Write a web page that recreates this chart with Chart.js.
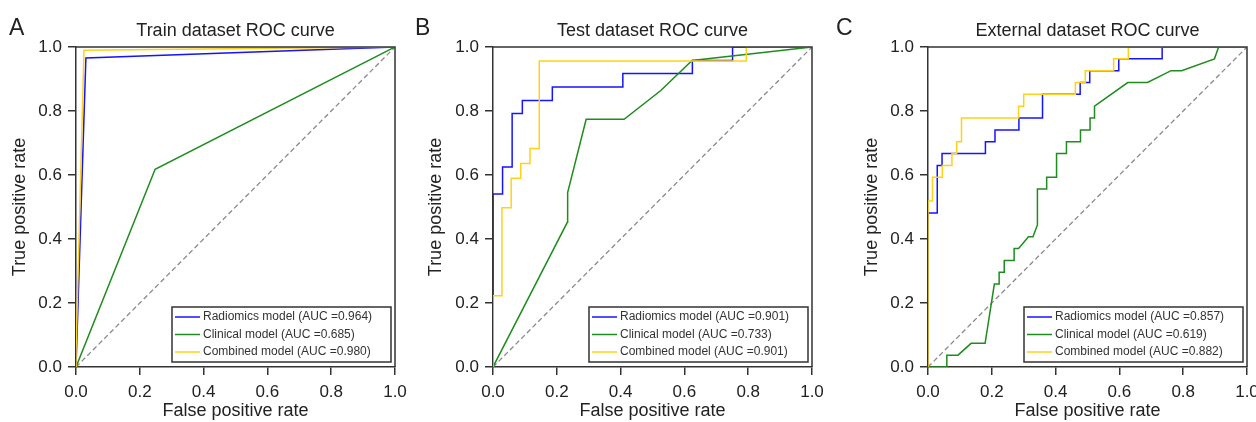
<!DOCTYPE html>
<html><head><meta charset="utf-8">
<script src="https://cdn.jsdelivr.net/npm/chart.js@4.4.0/dist/chart.umd.min.js"></script>
<style>
html,body{margin:0;padding:0;background:#fff;}
body{width:1256px;height:422px;position:relative;overflow:hidden;}
canvas{position:absolute;top:0;}
</style></head><body>
<canvas id="cA" width="408" height="422" style="left:0px"></canvas>
<canvas id="cB" width="419" height="422" style="left:408px"></canvas>
<canvas id="cC" width="429" height="422" style="left:827px"></canvas>
<script>
// ---------- data ----------
const tickLabels = ['0.0', '0.2', '0.4', '0.6', '0.8', '1.0'];
const seriesNames = ['Radiomics model', 'Clinical model', 'Combined model'];
const panelTitles = ['Train dataset ROC curve', 'Test dataset ROC curve', 'External dataset ROC curve'];
const panelLetters = ['A', 'B', 'C'];
const xAxisTitle = 'False positive rate';
const yAxisTitle = 'True positive rate';

const trainAUC = ['0.964', '0.685', '0.980'];
const testAUC = ['0.901', '0.733', '0.901'];
const extAUC = ['0.857', '0.619', '0.882'];

const diagFPR = [0, 1];
const diagTPR = [0, 1];

// Train
const trainRadFPR = [0, 0.031, 1];
const trainRadTPR = [0, 0.966, 1];
const trainCliFPR = [0, 0.248, 1];
const trainCliTPR = [0, 0.618, 1];
const trainComFPR = [0, 0, 0.025, 1];
const trainComTPR = [0, 0.05, 0.99, 1];

// Test
const testRadFPR = [0, 0, 0.030, 0.030, 0.060, 0.060, 0.092, 0.092, 0.186, 0.186, 0.407, 0.407, 0.625, 0.625, 0.751, 0.751, 1];
const testRadTPR = [0, 0.541, 0.541, 0.625, 0.625, 0.792, 0.792, 0.833, 0.833, 0.875, 0.875, 0.917, 0.917, 0.958, 0.958, 1, 1];
const testCliFPR = [0, 0.233, 0.234, 0.292, 0.411, 0.526, 0.624, 1];
const testCliTPR = [0, 0.452, 0.545, 0.774, 0.774, 0.864, 0.958, 1];
const testComFPR = [0, 0, 0.028, 0.028, 0.057, 0.057, 0.087, 0.087, 0.116, 0.116, 0.145, 0.145, 0.794, 0.794, 1];
const testComTPR = [0, 0.223, 0.223, 0.498, 0.498, 0.590, 0.590, 0.636, 0.636, 0.683, 0.683, 0.956, 0.956, 1, 1];

// External
const extRadFPR = [0, 0, 0.029, 0.029, 0.044, 0.044, 0.180, 0.180, 0.210, 0.210, 0.285, 0.285, 0.359, 0.359, 0.477, 0.477, 0.507, 0.507, 0.598, 0.598, 0.734, 0.734, 1];
const extRadTPR = [0, 0.481, 0.481, 0.630, 0.630, 0.667, 0.667, 0.704, 0.704, 0.741, 0.741, 0.778, 0.778, 0.852, 0.852, 0.889, 0.889, 0.926, 0.926, 0.963, 0.963, 1, 1];
const extCliFPR = [0, 0.059, 0.059, 0.094, 0.135, 0.179, 0.208, 0.223, 0.223, 0.239, 0.239, 0.270, 0.270, 0.284, 0.315, 0.329, 0.343, 0.343, 0.372, 0.372, 0.403, 0.403, 0.434, 0.434, 0.478, 0.478, 0.508, 0.508, 0.522, 0.522, 0.626, 0.688, 0.762, 0.795, 0.898, 0.911, 1];
const extCliTPR = [0, 0, 0.037, 0.037, 0.074, 0.074, 0.259, 0.259, 0.296, 0.296, 0.333, 0.333, 0.370, 0.370, 0.407, 0.407, 0.444, 0.556, 0.556, 0.593, 0.593, 0.667, 0.667, 0.704, 0.704, 0.741, 0.741, 0.778, 0.778, 0.815, 0.889, 0.889, 0.926, 0.926, 0.963, 1, 1];
const extComFPR = [0, 0, 0.014, 0.014, 0.045, 0.045, 0.075, 0.075, 0.090, 0.090, 0.105, 0.105, 0.284, 0.284, 0.300, 0.300, 0.462, 0.462, 0.493, 0.493, 0.582, 0.582, 0.628, 0.628, 1];
const extComTPR = [0, 0.519, 0.519, 0.593, 0.593, 0.630, 0.630, 0.667, 0.667, 0.704, 0.704, 0.778, 0.778, 0.815, 0.815, 0.852, 0.852, 0.889, 0.889, 0.926, 0.926, 0.963, 0.963, 1, 1];

// ---------- styling ----------
const FONT = '"Liberation Sans", Arial, Helvetica, sans-serif';
const colors = ['#1414ff', '#1e8c1e', '#ffd21a'];
const textColor = '#222';
const axisColor = '#333';

function pts(xs, ys) { return xs.map((x, i) => ({x: x, y: ys[i]})); }

const framePlugin = {
  id: 'frame',
  afterDatasetsDraw(chart) {
    const {ctx, chartArea: a} = chart;
    ctx.save();
    ctx.strokeStyle = axisColor;
    ctx.lineWidth = 1.5;
    ctx.beginPath();
    ctx.moveTo(a.left, a.top); ctx.lineTo(a.right, a.top); ctx.lineTo(a.right, a.bottom);
    ctx.stroke();
    ctx.restore();
  }
};

const legendPlugin = {
  id: 'boxLegend',
  afterDraw(chart, args, opts) {
    const {ctx, chartArea: a} = chart;
    const w = 219, h = 55;
    const right = a.right - 4, bottom = a.bottom - 5;
    const left = right - w, top = bottom - h;
    ctx.save();
    ctx.fillStyle = '#fff';
    ctx.fillRect(left, top, w, h);
    ctx.strokeStyle = axisColor;
    ctx.lineWidth = 1.5;
    ctx.strokeRect(left, top, w, h);
    ctx.font = '12px ' + FONT;
    ctx.textBaseline = 'middle';
    ctx.textAlign = 'left';
    const items = chart.data.datasets.filter(d => d.legendLabel);
    items.forEach((d, i) => {
      const y = top + 10 + i * 17.5;
      ctx.strokeStyle = d.borderColor;
      ctx.lineWidth = 1.5;
      ctx.beginPath(); ctx.moveTo(left + 3, y); ctx.lineTo(left + 28, y); ctx.stroke();
      ctx.fillStyle = '#333';
      ctx.fillText(d.legendLabel, left + 31, y);
    });
    ctx.restore();
  }
};

const letterPlugin = {
  id: 'panelLetter',
  afterDraw(chart, args, opts) {
    const ctx = chart.ctx;
    ctx.save();
    ctx.font = '23px ' + FONT;
    ctx.fillStyle = textColor;
    ctx.textBaseline = 'alphabetic';
    ctx.textAlign = 'left';
    ctx.fillText(opts.letter, opts.x, 35);
    ctx.restore();
  }
};

function makeChart(id, idx, auc, rad, cli, com, yW, padR, yTitlePad, letterX) {
  const tickCb = v => tickLabels[Math.round(v / 0.2)];
  const datasets = [
    {data: pts(diagFPR, diagTPR), borderColor: '#8a8a8a', borderWidth: 1.3, borderDash: [5, 3], order: 4},
    {data: pts(rad[0], rad[1]), borderColor: colors[0], borderWidth: 1.5, order: 3,
      legendLabel: seriesNames[0] + ' (AUC =' + auc[0] + ')'},
    {data: pts(cli[0], cli[1]), borderColor: colors[1], borderWidth: 1.5, order: 2,
      legendLabel: seriesNames[1] + ' (AUC =' + auc[1] + ')'},
    {data: pts(com[0], com[1]), borderColor: colors[2], borderWidth: 1.5, order: 1,
      legendLabel: seriesNames[2] + ' (AUC =' + auc[2] + ')'}
  ];
  datasets.forEach(d => { d.showLine = true; d.pointRadius = 0; d.tension = 0; d.fill = false; d.label = d.legendLabel || 'chance'; });
  return new Chart(document.getElementById(id), {
    type: 'scatter',
    data: {datasets},
    options: {
      responsive: false, animation: false, devicePixelRatio: 1,
      layout: {padding: {left: 0, right: padR, top: 0, bottom: 0}},
      plugins: {
        legend: {display: false}, tooltip: {enabled: false},
        title: {display: true, text: panelTitles[idx], fullSize: false, color: textColor,
          font: {family: FONT, size: 18, weight: 'normal'}, padding: {top: 20.7, bottom: 4.7}},
        panelLetter: {letter: panelLetters[idx], x: letterX}
      },
      scales: {
        x: {type: 'linear', min: 0, max: 1,
          ticks: {stepSize: 0.2, callback: tickCb, color: textColor, font: {family: FONT, size: 17}, padding: 7, maxRotation: 0, autoSkip: false},
          grid: {display: true, drawOnChartArea: false, drawTicks: true, tickLength: 8, color: axisColor, lineWidth: 1.5},
          border: {display: true, color: axisColor, width: 1.5},
          title: {display: true, text: xAxisTitle, color: textColor, font: {family: FONT, size: 18}, padding: {top: 0, bottom: 0}},
          afterFit: s => { s.height = 55; s.paddingLeft = 0; s.paddingRight = 0; }
        },
        y: {type: 'linear', min: 0, max: 1,
          ticks: {stepSize: 0.2, callback: tickCb, color: textColor, font: {family: FONT, size: 17}, padding: 6, autoSkip: false},
          grid: {display: true, drawOnChartArea: false, drawTicks: true, tickLength: 8, color: axisColor, lineWidth: 1.5},
          border: {display: true, color: axisColor, width: 1.5},
          title: {display: true, text: yAxisTitle, color: textColor, font: {family: FONT, size: 18}, padding: {top: yTitlePad, bottom: 0}},
          afterFit: s => { s.width = yW; s.paddingTop = 0; s.paddingBottom = 0; }
        }
      }
    },
    plugins: [framePlugin, legendPlugin, letterPlugin]
  });
}

makeChart('cA', 0, trainAUC, [trainRadFPR, trainRadTPR], [trainCliFPR, trainCliTPR], [trainComFPR, trainComTPR], 76, 13, 9.2, 9);
makeChart('cB', 1, testAUC, [testRadFPR, testRadTPR], [testCliFPR, testCliTPR], [testComFPR, testComTPR], 85, 15, 17.2, 7);
makeChart('cC', 2, extAUC, [extRadFPR, extRadTPR], [extCliFPR, extCliTPR], [extComFPR, extComTPR], 101, 9, 34.2, 9);
</script>
</body></html>
